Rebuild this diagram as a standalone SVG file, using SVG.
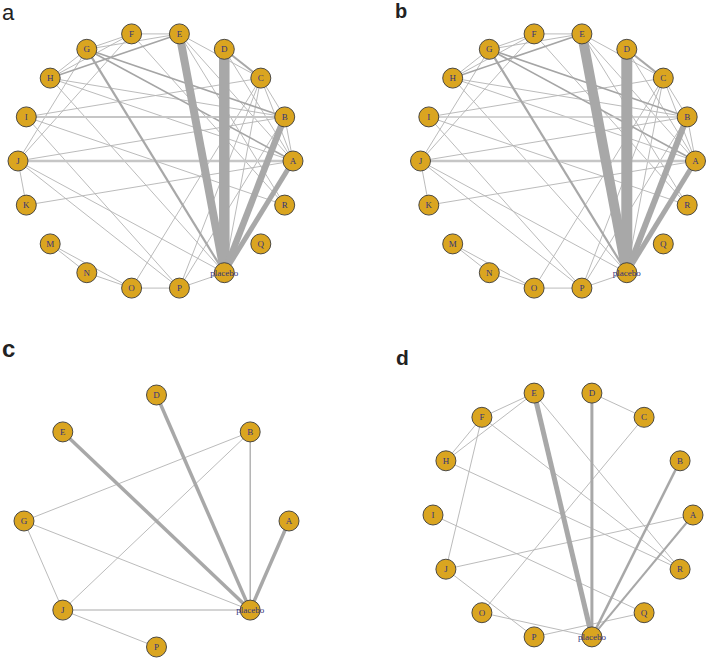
<svg xmlns="http://www.w3.org/2000/svg" width="708" height="659" viewBox="0 0 708 659">
<style>
.e{stroke:#b3b3b3;stroke-width:0.9;fill:none}
.m{stroke:#a5a5a5;stroke-width:1.6;fill:none}
.t{stroke:#a8a8a8;fill:none}
.lt{stroke:#c6c6c6;fill:none}
.n circle{fill:#DAA520;stroke:#3a3a3a;stroke-width:0.9}
.n text{font-family:"Liberation Serif","Times New Roman",serif;font-size:9px;fill:#33337a;text-anchor:middle}
.pl{font-family:"Liberation Sans",Arial,sans-serif;fill:#222}
</style>
<rect width="708" height="659" fill="#fff"/>
<text class="pl" x="2" y="20" font-size="22">a</text>
<text class="pl" x="395" y="18" font-size="20" font-weight="bold">b</text>
<text class="pl" x="2" y="357" font-size="24" font-weight="bold">c</text>
<text class="pl" x="396" y="365" font-size="21" font-weight="bold">d</text>

<g id="panel-a">
<g id="edges-a">
<line class="e" x1="131.6" y1="33.9" x2="179.4" y2="33.9"/>
<line class="e" x1="86.8" y1="49.3" x2="131.6" y2="33.9"/>
<line class="e" x1="86.8" y1="49.3" x2="179.4" y2="33.9"/>
<line class="e" x1="50.2" y1="78.1" x2="86.8" y2="49.3"/>
<line class="e" x1="50.2" y1="78.1" x2="131.6" y2="33.9"/>
<line class="e" x1="179.4" y1="33.9" x2="260.8" y2="78.1"/>
<line class="e" x1="179.4" y1="33.9" x2="293" y2="161"/>
<line class="e" x1="179.4" y1="33.9" x2="284.7" y2="205.1"/>
<line class="e" x1="131.6" y1="33.9" x2="284.7" y2="205.1"/>
<line class="e" x1="131.6" y1="33.9" x2="18" y2="161"/>
<line class="e" x1="86.8" y1="49.3" x2="18" y2="161"/>
<line class="e" x1="50.2" y1="78.1" x2="284.7" y2="116.9"/>
<line class="e" x1="50.2" y1="78.1" x2="293" y2="161"/>
<line class="e" x1="50.2" y1="78.1" x2="224.3" y2="272.7"/>
<line class="e" x1="26.3" y1="116.9" x2="260.8" y2="78.1"/>
<line class="e" x1="26.3" y1="116.9" x2="179.4" y2="288.1"/>
<line class="e" x1="26.3" y1="116.9" x2="284.7" y2="205.1"/>
<line class="e" x1="18" y1="161" x2="284.7" y2="116.9"/>
<line class="e" x1="18" y1="161" x2="26.3" y2="205.1"/>
<line class="e" x1="18" y1="161" x2="224.3" y2="272.7"/>
<line class="e" x1="18" y1="161" x2="179.4" y2="288.1"/>
<line class="e" x1="26.3" y1="205.1" x2="293" y2="161"/>
<line class="e" x1="50.2" y1="243.9" x2="86.8" y2="272.7"/>
<line class="e" x1="50.2" y1="243.9" x2="131.6" y2="288.1"/>
<line class="e" x1="86.8" y1="272.7" x2="131.6" y2="288.1"/>
<line class="e" x1="131.6" y1="288.1" x2="179.4" y2="288.1"/>
<line class="e" x1="131.6" y1="288.1" x2="260.8" y2="78.1"/>
<line class="e" x1="179.4" y1="288.1" x2="224.3" y2="272.7"/>
<line class="e" x1="179.4" y1="288.1" x2="260.8" y2="78.1"/>
<line class="e" x1="179.4" y1="288.1" x2="284.7" y2="116.9"/>
<line class="e" x1="260.8" y1="78.1" x2="224.3" y2="272.7"/>
<line class="e" x1="260.8" y1="78.1" x2="293" y2="161"/>
<line class="e" x1="260.8" y1="78.1" x2="284.7" y2="116.9"/>
<line class="e" x1="284.7" y1="116.9" x2="293" y2="161"/>
<line class="e" x1="224.3" y1="49.3" x2="293" y2="161"/>
<line class="m" x1="50.2" y1="78.1" x2="179.4" y2="33.9"/>
<line class="m" x1="86.8" y1="49.3" x2="284.7" y2="116.9"/>
<line class="m" x1="86.8" y1="49.3" x2="293" y2="161"/>
<line class="lt" x1="18" y1="161" x2="293" y2="161" stroke-width="2.5"/>
<line class="lt" x1="26.3" y1="116.9" x2="284.7" y2="116.9" stroke-width="2"/>
<line class="t" x1="224.3" y1="49.3" x2="260.8" y2="78.1" stroke-width="2"/>
<line class="t" x1="86.8" y1="49.3" x2="224.3" y2="272.7" stroke-width="2.2" stroke="#9c9c9c"/>
<line class="t" x1="179.4" y1="33.9" x2="224.3" y2="272.7" stroke-width="8"/>
<line class="t" x1="224.3" y1="49.3" x2="224.3" y2="272.7" stroke-width="10.5"/>
<line class="t" x1="284.7" y1="116.9" x2="224.3" y2="272.7" stroke-width="6.5"/>
<line class="t" x1="293" y1="161" x2="224.3" y2="272.7" stroke-width="5"/>
</g>
<g id="a-A" class="n"><circle cx="293" cy="161" r="10"/><text x="293" y="164">A</text></g>
<g id="a-B" class="n"><circle cx="284.7" cy="116.9" r="10"/><text x="284.7" y="120">B</text></g>
<g id="a-C" class="n"><circle cx="260.8" cy="78.1" r="10"/><text x="260.8" y="81.2">C</text></g>
<g id="a-D" class="n"><circle cx="224.3" cy="49.3" r="10"/><text x="224.3" y="52.4">D</text></g>
<g id="a-E" class="n"><circle cx="179.4" cy="33.9" r="10"/><text x="179.4" y="37">E</text></g>
<g id="a-F" class="n"><circle cx="131.6" cy="33.9" r="10"/><text x="131.6" y="37">F</text></g>
<g id="a-G" class="n"><circle cx="86.8" cy="49.3" r="10"/><text x="86.8" y="52.4">G</text></g>
<g id="a-H" class="n"><circle cx="50.2" cy="78.1" r="10"/><text x="50.2" y="81.2">H</text></g>
<g id="a-I" class="n"><circle cx="26.3" cy="116.9" r="10"/><text x="26.3" y="120">I</text></g>
<g id="a-J" class="n"><circle cx="18" cy="161" r="10"/><text x="18" y="164">J</text></g>
<g id="a-K" class="n"><circle cx="26.3" cy="205.1" r="10"/><text x="26.3" y="208.2">K</text></g>
<g id="a-M" class="n"><circle cx="50.2" cy="243.9" r="10"/><text x="50.2" y="247">M</text></g>
<g id="a-N" class="n"><circle cx="86.8" cy="272.7" r="10"/><text x="86.8" y="275.8">N</text></g>
<g id="a-O" class="n"><circle cx="131.6" cy="288.1" r="10"/><text x="131.6" y="291.2">O</text></g>
<g id="a-P" class="n"><circle cx="179.4" cy="288.1" r="10"/><text x="179.4" y="291.2">P</text></g>
<g id="a-placebo" class="n"><circle cx="224.3" cy="272.7" r="10"/><text x="224.3" y="275.5">placebo</text></g>
<g id="a-Q" class="n"><circle cx="260.8" cy="243.9" r="10"/><text x="260.8" y="247">Q</text></g>
<g id="a-R" class="n"><circle cx="284.7" cy="205.1" r="10"/><text x="284.7" y="208.2">R</text></g>
</g>

<g id="panel-b" transform="translate(402.5,0)">
<g id="edges-b">
<line class="e" x1="131.6" y1="33.9" x2="179.4" y2="33.9"/>
<line class="e" x1="86.8" y1="49.3" x2="131.6" y2="33.9"/>
<line class="e" x1="86.8" y1="49.3" x2="179.4" y2="33.9"/>
<line class="e" x1="50.2" y1="78.1" x2="86.8" y2="49.3"/>
<line class="e" x1="50.2" y1="78.1" x2="131.6" y2="33.9"/>
<line class="e" x1="179.4" y1="33.9" x2="260.8" y2="78.1"/>
<line class="e" x1="179.4" y1="33.9" x2="293" y2="161"/>
<line class="e" x1="179.4" y1="33.9" x2="284.7" y2="205.1"/>
<line class="e" x1="131.6" y1="33.9" x2="284.7" y2="205.1"/>
<line class="e" x1="131.6" y1="33.9" x2="18" y2="161"/>
<line class="e" x1="86.8" y1="49.3" x2="18" y2="161"/>
<line class="e" x1="50.2" y1="78.1" x2="284.7" y2="116.9"/>
<line class="e" x1="50.2" y1="78.1" x2="293" y2="161"/>
<line class="e" x1="50.2" y1="78.1" x2="224.3" y2="272.7"/>
<line class="e" x1="26.3" y1="116.9" x2="260.8" y2="78.1"/>
<line class="e" x1="26.3" y1="116.9" x2="179.4" y2="288.1"/>
<line class="e" x1="26.3" y1="116.9" x2="284.7" y2="205.1"/>
<line class="e" x1="18" y1="161" x2="284.7" y2="116.9"/>
<line class="e" x1="18" y1="161" x2="26.3" y2="205.1"/>
<line class="e" x1="18" y1="161" x2="224.3" y2="272.7"/>
<line class="e" x1="18" y1="161" x2="179.4" y2="288.1"/>
<line class="e" x1="26.3" y1="205.1" x2="293" y2="161"/>
<line class="e" x1="50.2" y1="243.9" x2="86.8" y2="272.7"/>
<line class="e" x1="50.2" y1="243.9" x2="131.6" y2="288.1"/>
<line class="e" x1="86.8" y1="272.7" x2="131.6" y2="288.1"/>
<line class="e" x1="131.6" y1="288.1" x2="179.4" y2="288.1"/>
<line class="e" x1="131.6" y1="288.1" x2="260.8" y2="78.1"/>
<line class="e" x1="179.4" y1="288.1" x2="224.3" y2="272.7"/>
<line class="e" x1="179.4" y1="288.1" x2="260.8" y2="78.1"/>
<line class="e" x1="179.4" y1="288.1" x2="284.7" y2="116.9"/>
<line class="e" x1="260.8" y1="78.1" x2="224.3" y2="272.7"/>
<line class="e" x1="260.8" y1="78.1" x2="293" y2="161"/>
<line class="e" x1="260.8" y1="78.1" x2="284.7" y2="116.9"/>
<line class="e" x1="284.7" y1="116.9" x2="293" y2="161"/>
<line class="e" x1="224.3" y1="49.3" x2="293" y2="161"/>
<line class="m" x1="50.2" y1="78.1" x2="179.4" y2="33.9"/>
<line class="m" x1="86.8" y1="49.3" x2="284.7" y2="116.9"/>
<line class="m" x1="86.8" y1="49.3" x2="293" y2="161"/>
<line class="lt" x1="18" y1="161" x2="293" y2="161" stroke-width="2.3"/>
<line class="lt" x1="26.3" y1="116.9" x2="284.7" y2="116.9" stroke-width="1.5"/>
<line class="t" x1="224.3" y1="49.3" x2="260.8" y2="78.1" stroke-width="2"/>
<line class="t" x1="86.8" y1="49.3" x2="224.3" y2="272.7" stroke-width="2.2" stroke="#9c9c9c"/>
<line class="t" x1="179.4" y1="33.9" x2="224.3" y2="272.7" stroke-width="10"/>
<line class="t" x1="224.3" y1="49.3" x2="224.3" y2="272.7" stroke-width="11"/>
<line class="t" x1="284.7" y1="116.9" x2="224.3" y2="272.7" stroke-width="6"/>
<line class="t" x1="293" y1="161" x2="224.3" y2="272.7" stroke-width="5"/>
</g>
<g id="b-A" class="n"><circle cx="293" cy="161" r="10"/><text x="293" y="164">A</text></g>
<g id="b-B" class="n"><circle cx="284.7" cy="116.9" r="10"/><text x="284.7" y="120">B</text></g>
<g id="b-C" class="n"><circle cx="260.8" cy="78.1" r="10"/><text x="260.8" y="81.2">C</text></g>
<g id="b-D" class="n"><circle cx="224.3" cy="49.3" r="10"/><text x="224.3" y="52.4">D</text></g>
<g id="b-E" class="n"><circle cx="179.4" cy="33.9" r="10"/><text x="179.4" y="37">E</text></g>
<g id="b-F" class="n"><circle cx="131.6" cy="33.9" r="10"/><text x="131.6" y="37">F</text></g>
<g id="b-G" class="n"><circle cx="86.8" cy="49.3" r="10"/><text x="86.8" y="52.4">G</text></g>
<g id="b-H" class="n"><circle cx="50.2" cy="78.1" r="10"/><text x="50.2" y="81.2">H</text></g>
<g id="b-I" class="n"><circle cx="26.3" cy="116.9" r="10"/><text x="26.3" y="120">I</text></g>
<g id="b-J" class="n"><circle cx="18" cy="161" r="10"/><text x="18" y="164">J</text></g>
<g id="b-K" class="n"><circle cx="26.3" cy="205.1" r="10"/><text x="26.3" y="208.2">K</text></g>
<g id="b-M" class="n"><circle cx="50.2" cy="243.9" r="10"/><text x="50.2" y="247">M</text></g>
<g id="b-N" class="n"><circle cx="86.8" cy="272.7" r="10"/><text x="86.8" y="275.8">N</text></g>
<g id="b-O" class="n"><circle cx="131.6" cy="288.1" r="10"/><text x="131.6" y="291.2">O</text></g>
<g id="b-P" class="n"><circle cx="179.4" cy="288.1" r="10"/><text x="179.4" y="291.2">P</text></g>
<g id="b-placebo" class="n"><circle cx="224.3" cy="272.7" r="10"/><text x="224.3" y="275.5">placebo</text></g>
<g id="b-Q" class="n"><circle cx="260.8" cy="243.9" r="10"/><text x="260.8" y="247">Q</text></g>
<g id="b-R" class="n"><circle cx="284.7" cy="205.1" r="10"/><text x="284.7" y="208.2">R</text></g>
</g>

<g id="panel-c">
<g id="edges-c">
<line class="e" x1="24" y1="521" x2="250.2" y2="431.9"/>
<line class="e" x1="62.8" y1="610.1" x2="250.2" y2="431.9"/>
<line class="e" x1="24" y1="521" x2="250.2" y2="610.1"/>
<line class="e" x1="24" y1="521" x2="62.8" y2="610.1"/>
<line class="e" x1="62.8" y1="610.1" x2="156.5" y2="647"/>
<line class="lt" x1="62.8" y1="610.1" x2="250.2" y2="610.1" stroke-width="1.5"/>
<line class="t" x1="250.2" y1="431.9" x2="250.2" y2="610.1" stroke-width="1.3" stroke="#a0a0a0"/>
<line class="t" x1="156.5" y1="395" x2="250.2" y2="610.1" stroke-width="3.5"/>
<line class="t" x1="62.8" y1="431.9" x2="250.2" y2="610.1" stroke-width="3.5"/>
<line class="t" x1="289" y1="521" x2="250.2" y2="610.1" stroke-width="3.5"/>
</g>
<g id="c-A" class="n"><circle cx="289" cy="521" r="10"/><text x="289" y="524">A</text></g>
<g id="c-B" class="n"><circle cx="250.2" cy="431.9" r="10"/><text x="250.2" y="435">B</text></g>
<g id="c-D" class="n"><circle cx="156.5" cy="395" r="10"/><text x="156.5" y="398">D</text></g>
<g id="c-E" class="n"><circle cx="62.8" cy="431.9" r="10"/><text x="62.8" y="435">E</text></g>
<g id="c-G" class="n"><circle cx="24" cy="521" r="10"/><text x="24" y="524">G</text></g>
<g id="c-J" class="n"><circle cx="62.8" cy="610.1" r="10"/><text x="62.8" y="613.2">J</text></g>
<g id="c-P" class="n"><circle cx="156.5" cy="647" r="10"/><text x="156.5" y="650">P</text></g>
<g id="c-placebo" class="n"><circle cx="250.2" cy="610.1" r="10"/><text x="250.2" y="613">placebo</text></g>
</g>

<g id="panel-d">
<g id="edges-d">
<line class="e" x1="591.9" y1="393.1" x2="644.1" y2="417.3"/>
<line class="e" x1="534.1" y1="393.1" x2="481.9" y2="417.3"/>
<line class="e" x1="534.1" y1="393.1" x2="445.9" y2="460.8"/>
<line class="e" x1="481.9" y1="417.3" x2="445.9" y2="460.8"/>
<line class="e" x1="481.9" y1="417.3" x2="445.9" y2="569.2"/>
<line class="e" x1="481.9" y1="417.3" x2="680.1" y2="569.2"/>
<line class="e" x1="534.1" y1="393.1" x2="680.1" y2="569.2"/>
<line class="e" x1="445.9" y1="460.8" x2="680.1" y2="569.2"/>
<line class="e" x1="644.1" y1="417.3" x2="481.9" y2="612.7"/>
<line class="e" x1="433" y1="515" x2="644.1" y2="612.7"/>
<line class="e" x1="445.9" y1="569.2" x2="693" y2="515"/>
<line class="e" x1="445.9" y1="569.2" x2="534.1" y2="636.9"/>
<line class="e" x1="481.9" y1="612.7" x2="591.9" y2="636.9"/>
<line class="e" x1="534.1" y1="636.9" x2="644.1" y2="612.7"/>
<line class="t" x1="534.1" y1="393.1" x2="591.9" y2="636.9" stroke-width="5"/>
<line class="t" x1="591.9" y1="393.1" x2="591.9" y2="636.9" stroke-width="3"/>
<line class="t" x1="680.1" y1="460.8" x2="591.9" y2="636.9" stroke-width="2.5"/>
<line class="t" x1="693" y1="515" x2="591.9" y2="636.9" stroke-width="2"/>
</g>
<g id="d-A" class="n"><circle cx="693" cy="515" r="10"/><text x="693" y="518">A</text></g>
<g id="d-B" class="n"><circle cx="680.1" cy="460.8" r="10"/><text x="680.1" y="464">B</text></g>
<g id="d-C" class="n"><circle cx="644.1" cy="417.3" r="10"/><text x="644.1" y="420.4">C</text></g>
<g id="d-D" class="n"><circle cx="591.9" cy="393.1" r="10"/><text x="591.9" y="396.2">D</text></g>
<g id="d-E" class="n"><circle cx="534.1" cy="393.1" r="10"/><text x="534.1" y="396.2">E</text></g>
<g id="d-F" class="n"><circle cx="481.9" cy="417.3" r="10"/><text x="481.9" y="420.4">F</text></g>
<g id="d-H" class="n"><circle cx="445.9" cy="460.8" r="10"/><text x="445.9" y="464">H</text></g>
<g id="d-I" class="n"><circle cx="433" cy="515" r="10"/><text x="433" y="518">I</text></g>
<g id="d-J" class="n"><circle cx="445.9" cy="569.2" r="10"/><text x="445.9" y="572.3">J</text></g>
<g id="d-O" class="n"><circle cx="481.9" cy="612.7" r="10"/><text x="481.9" y="615.8">O</text></g>
<g id="d-P" class="n"><circle cx="534.1" cy="636.9" r="10"/><text x="534.1" y="640">P</text></g>
<g id="d-placebo" class="n"><circle cx="591.9" cy="636.9" r="10"/><text x="591.9" y="639.8">placebo</text></g>
<g id="d-Q" class="n"><circle cx="644.1" cy="612.7" r="10"/><text x="644.1" y="615.8">Q</text></g>
<g id="d-R" class="n"><circle cx="680.1" cy="569.2" r="10"/><text x="680.1" y="572.3">R</text></g>
</g>
</svg>
